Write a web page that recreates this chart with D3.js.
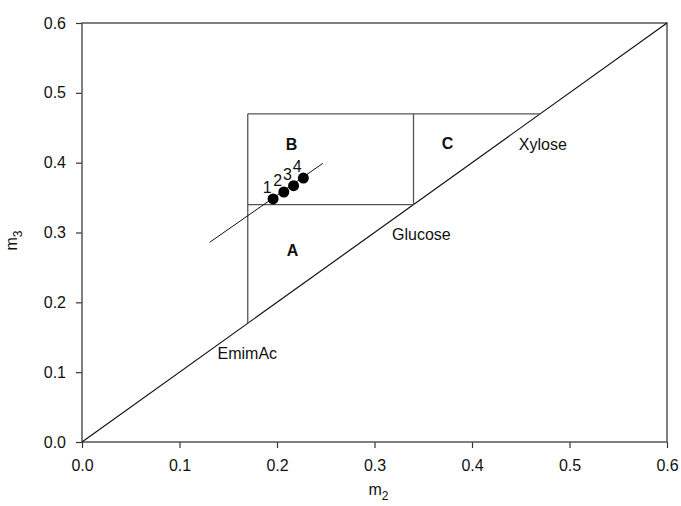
<!DOCTYPE html>
<html>
<head>
<meta charset="utf-8">
<script src="https://cdn.jsdelivr.net/npm/d3@7"></script>
<style>
  body { margin: 0; background: #fff; }
  text { font-family: "Liberation Sans", Arial, sans-serif; fill: #111; }
</style>
</head>
<body>
<div class="chart"></div>
<script>
// ternary-like regions (m2, m3)
const ticks = [0, 0.1, 0.2, 0.3, 0.4, 0.5, 0.6]
const samplePts = [
  { id: '1', m2: 0.196, m3: 0.348 },
  { id: '2', m2: 0.207, m3: 0.358 },
  { id: '3', m2: 0.217, m3: 0.367 },
  { id: '4', m2: 0.227, m3: 0.378 }
]
const fitLine = [[0.131, 0.286], [0.247, 0.399]]
const diagonal = [[0, 0], [0.6, 0.6]]
// region boundaries
const regionLines = [
  [[0.17, 0.17], [0.17, 0.47]],
  [[0.17, 0.47], [0.47, 0.47]],
  [[0.17, 0.34], [0.34, 0.34]],
  [[0.34, 0.34], [0.34, 0.47]]
]
const regionLabels = [
  { t: 'B', m2: 0.215, m3: 0.418 },
  { t: 'A', m2: 0.216, m3: 0.266 },
  { t: 'C', m2: 0.375, m3: 0.419 }
]
const compLabels = [
  { t: 'Xylose', m2: 0.448, m3: 0.418 },
  { t: 'Glucose', m2: 0.318, m3: 0.289 },
  { t: 'EmimAc', m2: 0.139, m3: 0.119 }
]

const margin = { top: 23, right: 14, bottom: 64, left: 82 }
const width = 681 - margin.left - margin.right
const height = 506 - margin.top - margin.bottom
const font = '"Liberation Sans", Arial, sans-serif'

const svg = d3.select('.chart')
  .append('svg')
  .attr('width', 681)
  .attr('height', 506)
  .append('g')
  .attr('transform', `translate(${margin.left}, ${margin.top})`)

const x = d3.scaleLinear().domain([0, 0.6]).range([0, width])
const y = d3.scaleLinear().domain([0, 0.6]).range([height, 0])

const xAxis = d3.axisBottom(x).tickValues(ticks).tickFormat(d3.format('.1f')).tickSize(6).tickPadding(12)
const yAxis = d3.axisLeft(y).tickValues(ticks).tickFormat(d3.format('.1f')).tickSize(6).tickPadding(10)

const gx = svg.append('g').attr('transform', `translate(0, ${height})`).call(xAxis)
const gy = svg.append('g').call(yAxis)
;[gx, gy].forEach(g => {
  g.select('.domain').remove()
  g.selectAll('line').attr('stroke', '#333').attr('stroke-width', 1.2)
  g.selectAll('text').style('font-size', '16px').style('font-family', font).attr('fill', '#111')
})

// frame
svg.append('rect').attr('width', width).attr('height', height)
  .attr('fill', 'none').attr('stroke', '#555').attr('stroke-width', 1.5)

const line = d3.line().x(d => x(d[0])).y(d => y(d[1]))

svg.append('path').attr('d', line(diagonal)).attr('fill', 'none').attr('stroke', '#111').attr('stroke-width', 1.2)
regionLines.forEach(l => {
  svg.append('path').attr('d', line(l)).attr('fill', 'none').attr('stroke', '#555').attr('stroke-width', 1.3)
})
svg.append('path').attr('d', line(fitLine)).attr('fill', 'none').attr('stroke', '#111').attr('stroke-width', 1)

svg.selectAll('circle.pt').data(samplePts).join('circle')
  .attr('class', 'pt')
  .attr('cx', d => x(d.m2)).attr('cy', d => y(d.m3)).attr('r', 5.5)
  .attr('fill', '#000')

svg.selectAll('text.num').data(samplePts).join('text')
  .attr('class', 'num')
  .attr('x', d => x(d.m2) - 6).attr('y', d => y(d.m3) - 6)
  .attr('text-anchor', 'middle').style('font-size', '16px')
  .text(d => d.id)

svg.selectAll('text.reg').data(regionLabels).join('text')
  .attr('class', 'reg')
  .attr('x', d => x(d.m2)).attr('y', d => y(d.m3))
  .attr('text-anchor', 'middle').style('font-size', '16px').style('font-weight', 'bold')
  .text(d => d.t)

svg.selectAll('text.comp').data(compLabels).join('text')
  .attr('class', 'comp')
  .attr('x', d => x(d.m2)).attr('y', d => y(d.m3))
  .style('font-size', '16px')
  .text(d => d.t)

// axis titles
const xt = svg.append('text').attr('x', width / 2 + 4).attr('y', height + 53)
  .attr('text-anchor', 'middle').style('font-size', '16px')
xt.append('tspan').text('m')
xt.append('tspan').attr('dy', 5).style('font-size', '12px').text('2')

const yt = svg.append('text').attr('transform', `translate(${-65}, ${height / 2 + 8}) rotate(-90)`)
  .attr('text-anchor', 'middle').style('font-size', '16px')
yt.append('tspan').text('m')
yt.append('tspan').attr('dy', 5).style('font-size', '12px').text('3')
</script>
</body>
</html>
